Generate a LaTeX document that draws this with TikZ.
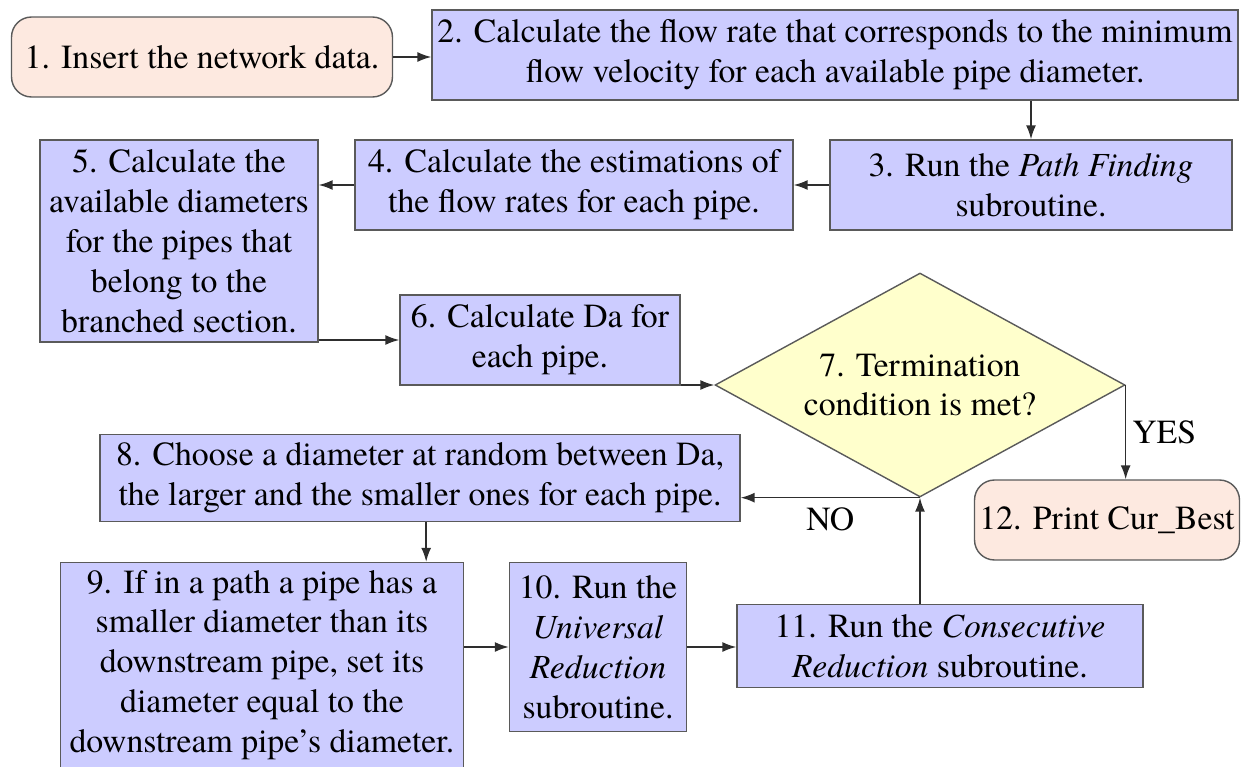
\documentclass[tikz,border=0pt]{standalone}
\usepackage{fontspec}
\setmainfont{texgyretermes}[
    Extension=.otf,
    UprightFont=*-regular,
    ItalicFont=*-italic,
    BoldFont=*-bold,
    BoldItalicFont=*-bolditalic]
\usepackage{xcolor}
\usetikzlibrary{arrows.meta, positioning, shapes.geometric}

\definecolor{stepfill}{HTML}{CCCCFF}
\definecolor{termfill}{HTML}{FDE9E0}
\definecolor{decfill}{HTML}{FFFFCC}
\definecolor{boxline}{HTML}{5A5A5A}
\definecolor{arrowline}{HTML}{2E2E2E}

\begin{document}
\begin{tikzpicture}[
    x=0.02cm, y=-0.02cm,
    font=\fontsize{19.2}{22.7}\selectfont,
    box/.style={
        draw=boxline,
        fill=stepfill,
        line width=0.8pt,
        align=center,
        inner sep=1pt
    },
    term/.style={
        box,
        fill=termfill,
        rounded corners=0.4cm
    },
    decision/.style={
        draw=boxline,
        fill=decfill,
        line width=0.8pt,
        diamond,
        aspect=1.83,
        align=center,
        inner sep=0pt,
        minimum width=8.2cm,
        minimum height=4.48cm
    },
    arrow/.style={
        -{Latex[length=0.28cm, width=0.2cm]},
        line width=0.9pt,
        draw=arrowline
    }
]

\useasboundingbox (0,0) rectangle (1251,767);

\node[term, minimum width=7.62cm, minimum height=1.6cm] (insert) at (202,57) {1. Insert the network data.};

\node[box, minimum width=16.12cm, minimum height=1.8cm] (flowrate) at (835,55) {2. Calculate the flow rate that corresponds to the minimum\\flow velocity for each available pipe diameter.};

\node[box, minimum width=8.04cm, minimum height=1.8cm] (pathfind) at (1031,185) {3. Run the \textit{Path Finding}\\subroutine.};

\node[box, minimum width=8.76cm, minimum height=1.8cm] (estimate) at (574,185) {4. Calculate the estimations of\\the flow rates for each pipe.};

\node[box, minimum width=5.56cm, minimum height=4.04cm] (avail) at (179,241) {5. Calculate the\\available diameters\\for the pipes that\\belong to the\\branched section.};

\node[box, minimum width=5.6cm, minimum height=1.8cm] (calcda) at (540,340) {6. Calculate Da for\\each pipe.};

\node[decision] (termcond) at (920,385) {7. Termination\\condition is met?};

\node[box, minimum width=12.8cm, minimum height=1.74cm] (choose) at (420,478) {8. Choose a diameter at random between Da,\\the larger and the smaller ones for each pipe.};

\node[box, minimum width=8.06cm, minimum height=4.1cm] (adjust) at (262,665) {9. If in a path a pipe has a\\smaller diameter than its\\downstream pipe, set its\\diameter equal to the\\downstream pipe's diameter.};

\node[box, minimum width=3.54cm, minimum height=3.38cm] (universal) at (598,647) {10. Run the\\\textit{Universal}\\\textit{Reduction}\\subroutine.};

\node[box, minimum width=8.12cm, minimum height=1.66cm] (consec) at (940,646) {11. Run the \textit{Consecutive}\\\textit{Reduction} subroutine.};

\node[term, minimum width=5.3cm, minimum height=1.6cm] (print) at (1107,520) {12. Print Cur\_Best};

\draw[arrow] (insert.east) -- (insert.east -| flowrate.west);
\draw[arrow] (pathfind.north |- flowrate.south) -- (pathfind.north);
\draw[arrow] (pathfind) -- (estimate);
\draw[arrow] (estimate) -- (avail.east |- estimate.west);
\draw[arrow] (avail.east |- calcda.west) -- (calcda.west);
\draw[arrow] (calcda.east |- termcond.west) -- (termcond.west);

\draw[arrow] (termcond.east) -- (termcond.east |- print.north) node[midway, right] {YES};
\draw[arrow] (termcond.south) -- (termcond.south -| choose.east) node[midway, below=2pt] {NO};
\draw[arrow] (consec.north -| termcond.south) -- (termcond.south);

\draw[arrow] ([xshift=-0.76cm]adjust.north east |- choose.south) -- ([xshift=-0.76cm]adjust.north east);
\draw[arrow] (adjust.east |- universal.west) -- (universal.west);
\draw[arrow] (universal.east) -- (universal.east -| consec.west);

\end{tikzpicture}
\end{document}
